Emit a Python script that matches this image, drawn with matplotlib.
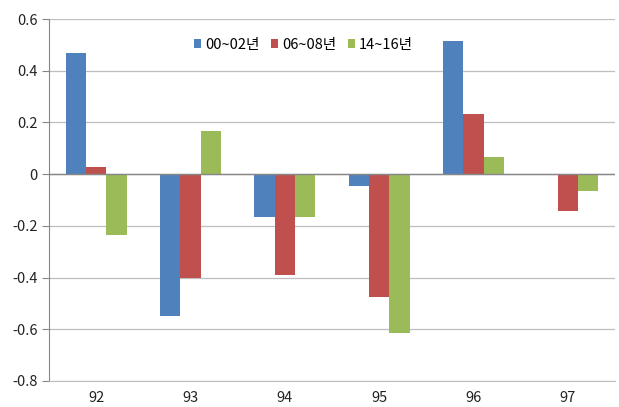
import matplotlib.pyplot as plt
import numpy as np

plt.rcParams['font.family'] = ['Noto Sans CJK KR', 'DejaVu Sans']

years = ['92', '93', '94', '95', '96', '97']
s_00_02 = [0.468, -0.547, -0.166, -0.044, 0.516, -0.005]
s_06_08 = [0.026, -0.402, -0.390, -0.476, 0.233, -0.143]
s_14_16 = [-0.237, 0.167, -0.166, -0.614, 0.068, -0.067]
labels = ['00~02년', '06~08년', '14~16년']
colors = ['#4F81BD', '#C0504D', '#9BBB59']

fig = plt.figure(figsize=(6.19, 4.07), dpi=100)
ax = fig.add_axes([49 / 619, 1 - 381 / 407, 566 / 619, 362 / 407])

x = np.arange(len(years))
w = 0.215
for i, (vals, lab, c) in enumerate(zip([s_00_02, s_06_08, s_14_16], labels, colors)):
    ax.bar(x + (i - 1) * w, vals, w, color=c, label=lab, zorder=3)

ax.set_xlim(-0.5, len(years) - 0.5)
ax.set_ylim(-0.8, 0.6)
ax.set_yticks(np.arange(-0.8, 0.61, 0.2))
ax.set_yticklabels(['-0.8', '-0.6', '-0.4', '-0.2', '0', '0.2', '0.4', '0.6'])
ax.set_xticks(x)
ax.set_xticklabels(years)

ax.grid(axis='y', color='#BEBEBE', linewidth=0.9, zorder=0)
ax.axhline(0, color='#878787', linewidth=1.0, zorder=4)

for s in ['top', 'right']:
    ax.spines[s].set_visible(False)
ax.spines['left'].set_color('#878787')
ax.spines['bottom'].set_color('#BEBEBE')
ax.tick_params(axis='y', length=5, color='#878787', labelsize=10.5, colors='#222222', pad=3)
ax.tick_params(axis='x', length=0, labelsize=10.5, colors='#222222', pad=7)

ax.legend(loc='upper center', bbox_to_anchor=(0.45, 0.985), ncol=3, frameon=False,
          fontsize=10.5, handlelength=0.45, handleheight=0.55, handletextpad=0.3,
          columnspacing=0.8)

fig.savefig('out.png', dpi=100)
